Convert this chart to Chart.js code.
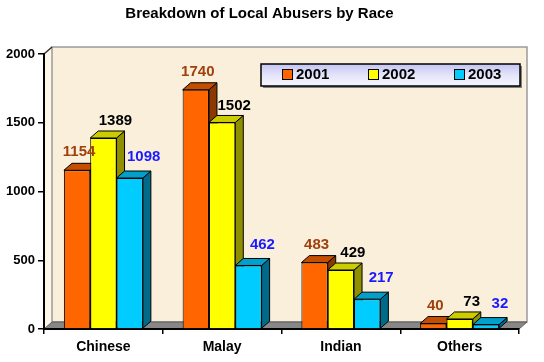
<!DOCTYPE html>
<html>
<head>
<meta charset="utf-8">
<script src="https://cdn.jsdelivr.net/npm/chart.js@4/dist/chart.umd.min.js"></script>
<style>
html,body{margin:0;padding:0;background:#fff;}
#c{display:block;}
</style>
</head>
<body>
<canvas id="c" width="544" height="362"></canvas>
<script>
const categories = ['Chinese', 'Malay', 'Indian', 'Others'];
const years = ['2001', '2002', '2003'];
const values2001 = [1154, 1740, 483, 40];
const values2002 = [1389, 1502, 429, 73];
const values2003 = [1098, 462, 217, 32];
const yTickValues = [0, 500, 1000, 1500, 2000];
const yTickLabels = ['0', '500', '1000', '1500', '2000'];
const chartTitle = 'Breakdown of Local Abusers by Race';

const FONT = '"Liberation Sans", Arial, sans-serif';
const DX = 8, DY = 7;
const styles = [
  { front: '#FF6600', top: '#C44E00', side: '#8C3800', label: '#A0400C', ldx: 2, ldy: 11 },
  { front: '#FFFF00', top: '#CCCC00', side: '#8F8F00', label: '#000000', ldx: 12, ldy: 10 },
  { front: '#00CCFF', top: '#009FCC', side: '#006A8A', label: '#1A1AFF', ldx: 14, ldy: 14 }
];
const series = [values2001, values2002, values2003];

function poly(ctx, pts, fill, stroke, lw) {
  ctx.beginPath();
  ctx.moveTo(pts[0][0], pts[0][1]);
  for (let i = 1; i < pts.length; i++) ctx.lineTo(pts[i][0], pts[i][1]);
  ctx.closePath();
  if (fill) { ctx.fillStyle = fill; ctx.fill(); }
  if (stroke) { ctx.strokeStyle = stroke; ctx.lineWidth = lw || 1; ctx.stroke(); }
}

const wallPlugin = {
  id: 'wall3d',
  beforeDraw(chart) {
    const ctx = chart.ctx, a = chart.chartArea;
    const L = a.left, R = a.right, T = a.top, B = a.bottom;
    ctx.save();
    poly(ctx, [[L, T], [L + DX, T - DY], [L + DX, B - DY], [L, B]], '#FFF7E8', null);
    poly(ctx, [[L + DX, T - DY], [R + DX, T - DY], [R + DX, B - DY], [L + DX, B - DY]], '#F9EFDB', '#9A9A9A', 1.5);
    poly(ctx, [[L, B], [L + DX, B - DY], [R + DX, B - DY], [R, B]], '#878787', '#5A5A5A', 1);
    ctx.beginPath(); ctx.moveTo(L, T); ctx.lineTo(L + DX, T - DY);
    ctx.strokeStyle = '#333'; ctx.lineWidth = 1.5; ctx.stroke();
    ctx.restore();
  },
  beforeDatasetsDraw(chart) {
    const ctx = chart.ctx;
    ctx.save();
    chart.data.datasets.forEach((ds, i) => {
      const meta = chart.getDatasetMeta(i);
      const st = styles[i];
      meta.data.forEach(bar => {
        const p = bar.getProps(['x', 'y', 'base', 'width'], true);
        const x0 = p.x - p.width / 2, x1 = p.x + p.width / 2;
        const top = p.y, bot = p.base;
        poly(ctx, [[x1, top], [x1 + DX, top - DY], [x1 + DX, bot - DY], [x1, bot]], st.side, '#000', 1);
        poly(ctx, [[x0, top], [x0 + DX, top - DY], [x1 + DX, top - DY], [x1, top]], st.top, '#000', 1);
      });
    });
    ctx.restore();
  },
  afterDatasetsDraw(chart) {
    const ctx = chart.ctx;
    ctx.save();
    ctx.font = 'bold 15px ' + FONT;
    ctx.textAlign = 'center';
    ctx.textBaseline = 'middle';
    chart.data.datasets.forEach((ds, i) => {
      const meta = chart.getDatasetMeta(i);
      const st = styles[i];
      meta.data.forEach((bar, j) => {
        const p = bar.getProps(['x', 'y'], true);
        ctx.fillStyle = st.label;
        ctx.fillText(String(ds.data[j]), p.x + st.ldx, p.y - DY - st.ldy);
      });
    });
    ctx.restore();
  },
  afterDraw(chart) {
    const ctx = chart.ctx;
    const bx = 261, by = 64, bw = 259, bh = 22;
    ctx.save();
    ctx.fillStyle = '#808080';
    ctx.fillRect(bx + 2, by + 2, bw, bh);
    const g = ctx.createLinearGradient(0, by, 0, by + bh);
    g.addColorStop(0, '#C4C4F2');
    g.addColorStop(0.5, '#E4E4FA');
    g.addColorStop(1, '#F6F6FF');
    ctx.fillStyle = g;
    ctx.fillRect(bx, by, bw, bh);
    ctx.strokeStyle = '#000'; ctx.lineWidth = 1.5;
    ctx.strokeRect(bx, by, bw, bh);
    ctx.font = 'bold 15px ' + FONT;
    ctx.textAlign = 'left';
    ctx.textBaseline = 'middle';
    chart.data.datasets.forEach((ds, i) => {
      const sx = 282 + i * 86, sy = 69;
      ctx.fillStyle = styles[i].front;
      ctx.fillRect(sx, sy, 11, 11);
      ctx.strokeStyle = '#000'; ctx.lineWidth = 1;
      ctx.strokeRect(sx + 0.5, sy + 0.5, 10, 10);
      ctx.fillStyle = '#000';
      ctx.fillText(ds.label, sx + 14, sy + 6);
    });
    ctx.restore();
  }
};

new Chart(document.getElementById('c'), {
  type: 'bar',
  data: {
    labels: categories,
    datasets: years.map((y, i) => ({
      label: y,
      data: series[i],
      backgroundColor: styles[i].front,
      borderColor: '#000',
      borderWidth: 1,
      categoryPercentage: 0.665,
      barPercentage: 1.0
    }))
  },
  options: {
    responsive: false,
    animation: false,
    devicePixelRatio: 1,
    layout: { padding: { left: 0, right: 25, top: 0, bottom: 0 } },
    plugins: {
      legend: { display: false },
      tooltip: { enabled: false },
      title: {
        display: true,
        text: chartTitle,
        color: '#000',
        font: { family: FONT, size: 15, weight: 'bold' },
        padding: { top: 5, bottom: 31 }
      }
    },
    scales: {
      x: {
        z: 1,
        grid: { display: true, drawOnChartArea: false, drawTicks: true, tickLength: 5, color: '#000', lineWidth: 1.5, offset: true },
        border: { display: true, color: '#000', width: 2 },
        ticks: { color: '#000', font: { family: FONT, size: 14, weight: 'bold' }, padding: 5 },
        afterFit: s => { s.height = 33; }
      },
      y: {
        z: 1,
        min: 0, max: 2000,
        afterBuildTicks: s => { s.ticks = yTickValues.map(v => ({ value: v })); },
        grid: { display: true, drawOnChartArea: false, drawTicks: true, tickLength: 6, color: '#000', lineWidth: 1.5 },
        border: { display: true, color: '#000', width: 2 },
        ticks: {
          color: '#000', font: { family: FONT, size: 13, weight: 'bold' }, padding: 3,
          callback: (v) => yTickLabels[yTickValues.indexOf(v)]
        },
        afterFit: s => { s.width = 44; }
      }
    }
  },
  plugins: [wallPlugin]
});
</script>
</body>
</html>
